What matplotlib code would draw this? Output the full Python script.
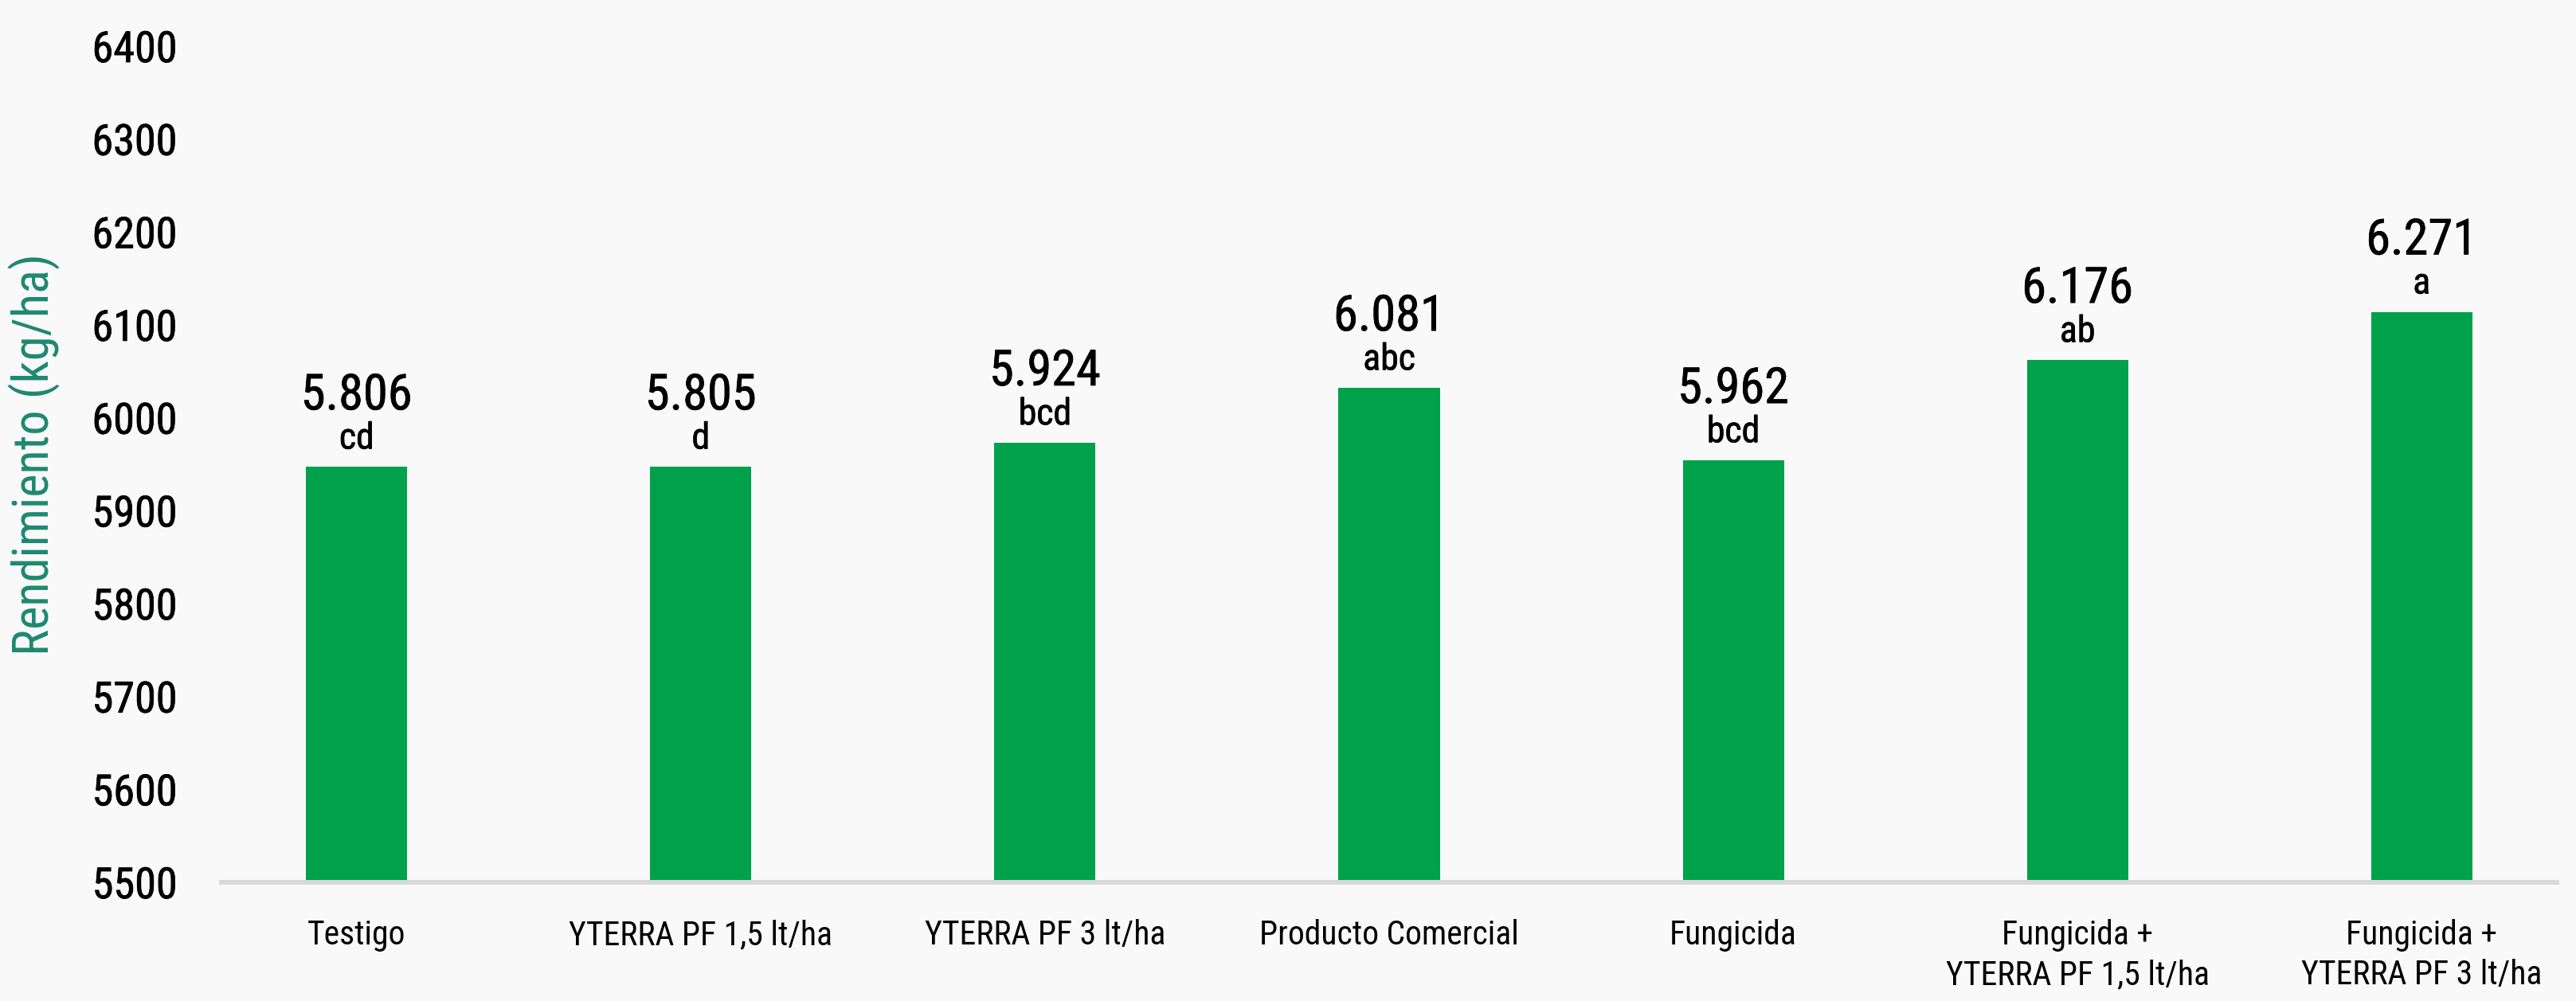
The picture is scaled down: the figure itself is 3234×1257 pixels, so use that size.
import matplotlib
matplotlib.use("Agg")
import matplotlib.pyplot as plt
from matplotlib import font_manager
import matplotlib.patheffects as pe

categories = [
    "Testigo",
    "YTERRA PF 1,5 lt/ha",
    "YTERRA PF 3 lt/ha",
    "Producto Comercial",
    "Fungicida",
    "Fungicida +\nYTERRA PF 1,5 lt/ha",
    "Fungicida +\nYTERRA PF 3 lt/ha",
]
# bar heights as drawn on the axis (kg/ha)
bar_values = [5947, 5947, 5973, 6032, 5954, 6062, 6114]
# printed labels above the bars
value_labels = ["5.806", "5.805", "5.924", "6.081", "5.962", "6.176", "6.271"]
letters = ["cd", "d", "bcd", "abc", "bcd", "ab", "a"]
yticks = [5500, 5600, 5700, 5800, 5900, 6000, 6100, 6200, 6300, 6400]


def pick_font(names):
    installed = {f.name for f in font_manager.fontManager.ttflist}
    for name in names:
        if name in installed:
            return name
    return "DejaVu Sans"


FONT = pick_font(["Roboto Condensed", "DejaVu Sans Condensed", "Liberation Sans Narrow", "DejaVu Sans"])
plt.rcParams["font.family"] = [FONT, "DejaVu Sans"]

BG = "#f9f9f9"
GREEN = "#00a14b"
TEAL = "#1e8870"
AXIS = "#d9d9d9"

# thin outline to get a medium-weight look
medium = [pe.withStroke(linewidth=0.5, foreground="black")]

fig = plt.figure(figsize=(32.34, 12.57), dpi=100, facecolor=BG)
ax = fig.add_axes([278 / 3234, 149 / 1257, 2932 / 3234, 1050 / 1257])
ax.set_facecolor(BG)

x = list(range(len(categories)))
ax.bar(x, [v - 5500 for v in bar_values], bottom=5500, width=0.294, color=GREEN, zorder=2)

ax.set_xlim(-0.393, len(categories) - 1 + 0.393)
ax.set_ylim(5500, 6400)
ax.set_yticks(yticks)
ax.set_yticklabels([str(t) for t in yticks], fontsize=39, color="black")
for t in ax.get_yticklabels():
    t.set_path_effects(medium)
ax.set_xticks(x)
ax.set_xticklabels(categories, fontsize=30, color="black", linespacing=1.3)
ax.tick_params(axis="y", length=0, pad=40)
ax.tick_params(axis="x", length=0, pad=33)

for side in ["top", "right", "left"]:
    ax.spines[side].set_visible(False)
ax.spines["bottom"].set_color(AXIS)
ax.spines["bottom"].set_linewidth(4.3)
ax.spines["bottom"].set_zorder(3)

ax.set_ylabel("Rendimiento (kg/ha)", fontsize=45, color=TEAL)
ax.yaxis.set_label_coords(-0.069, 0.512)

for xi, v, lab, let in zip(x, bar_values, value_labels, letters):
    ax.annotate(let, (xi, v), xytext=(0, 16.6), textcoords="offset points",
                ha="center", va="baseline", fontsize=33, color="black", path_effects=medium)
    ax.annotate(lab, (xi, v), xytext=(0, 52), textcoords="offset points",
                ha="center", va="baseline", fontsize=45, color="black", path_effects=medium)

fig.savefig("out.png", dpi=100, facecolor=BG)
